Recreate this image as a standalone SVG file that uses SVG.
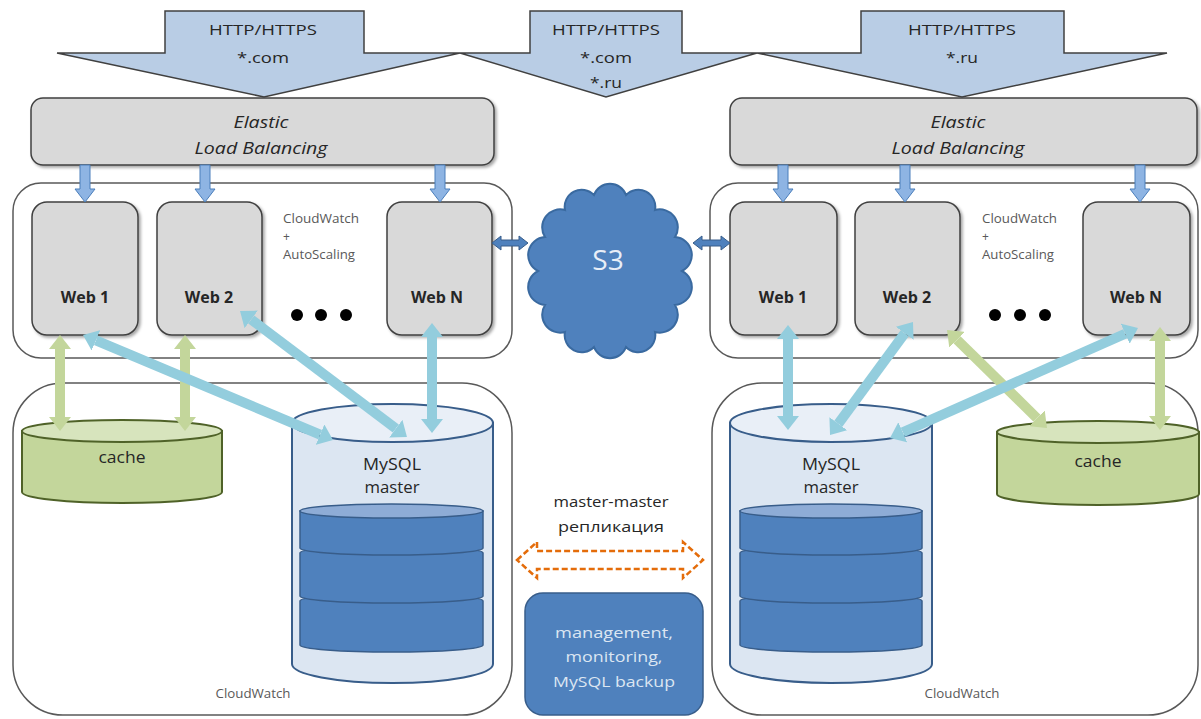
<svg xmlns="http://www.w3.org/2000/svg" xmlns:xlink="http://www.w3.org/1999/xlink" width="1201" height="719" viewBox="0 0 1201 719">
<style>
text{font-family:"Open Sans","Liberation Sans",sans-serif;fill:#262626}
.http{fill:#b9cde5;stroke:#404040;stroke-width:1.5;stroke-linejoin:miter}
.elb{fill:#d9d9d9;stroke:#404040;stroke-width:1.5;filter:url(#sh)}
.web{fill:#d9d9d9;stroke:#404040;stroke-width:1.5;filter:url(#sh)}
.grp{fill:#ffffff;stroke:#595959;stroke-width:1.5}
.dn{fill:#8eb4e3;stroke:#4a7ebb;stroke-width:1}
.s3a{fill:#4f81bd;stroke:#385d8a;stroke-width:1}
.small{font-size:12px;fill:#595959}
.lbl{font-size:16px;font-weight:bold;text-anchor:middle}
.c{text-anchor:middle}
.cyl{fill:#dce6f2;stroke:#385d8a;stroke-width:2}
.cyltop{fill:#e9eff7;stroke:#385d8a;stroke-width:2}
.disk{fill:#4f81bd;stroke:#385d8a;stroke-width:1.5}
.disktop{fill:#8eacd6;stroke:#385d8a;stroke-width:1.5}
.cache{fill:#c3d69b;stroke:#4f6228;stroke-width:2}
.cachetop{fill:#d7e4bd;stroke:#4f6228;stroke-width:2}
.blue{stroke:#93cddd;stroke-width:10;fill:none;marker-start:url(#mb);marker-end:url(#mb)}
.green{stroke:#c3d69b;stroke-width:10;fill:none;marker-start:url(#mg);marker-end:url(#mg)}
</style>
<defs>
<filter id="sh" x="-10%" y="-10%" width="130%" height="130%">
<feDropShadow dx="2" dy="2" stdDeviation="1.5" flood-color="#000" flood-opacity="0.35"/>
</filter>
<marker id="mb" markerUnits="userSpaceOnUse" markerWidth="14" markerHeight="22" viewBox="0 0 14 22" refX="0" refY="11" orient="auto-start-reverse">
<path d="M0,0 L14,11 L0,22 Z" fill="#93cddd"/>
</marker>
<marker id="mg" markerUnits="userSpaceOnUse" markerWidth="14" markerHeight="22" viewBox="0 0 14 22" refX="0" refY="11" orient="auto-start-reverse">
<path d="M0,0 L14,11 L0,22 Z" fill="#c3d69b"/>
</marker>
<path id="dn" class="dn" d="M-5,165 L5,165 L5,189 L10,189 L0,202 L-10,189 L-5,189 Z"/>
</defs>

<!-- top HTTP arrows -->
<g id="http1">
<path class="http" d="M165,11 L364,11 L364,53 L460,53 L264,97 L57,53 L165,53 Z"/>
<text class="c" x="263" y="35" font-size="15" textLength="108" lengthAdjust="spacingAndGlyphs">HTTP/HTTPS</text>
<text class="c" x="263" y="63" font-size="15" textLength="52" lengthAdjust="spacingAndGlyphs">*.com</text>
</g>
<g id="http3">
<path class="http" d="M861,11 L1064,11 L1064,53 L1167,53 L962,97 L757,53 L861,53 Z"/>
<text class="c" x="962" y="35" font-size="15" textLength="108" lengthAdjust="spacingAndGlyphs">HTTP/HTTPS</text>
<text class="c" x="962" y="63" font-size="15" textLength="32" lengthAdjust="spacingAndGlyphs">*.ru</text>
</g>
<g id="http2">
<path class="http" d="M530,11 L682,11 L682,53 L757,53 L606,97 L460,53 L530,53 Z"/>
<text class="c" x="606" y="35" font-size="15" textLength="108" lengthAdjust="spacingAndGlyphs">HTTP/HTTPS</text>
<text class="c" x="606" y="63" font-size="15" textLength="52" lengthAdjust="spacingAndGlyphs">*.com</text>
<text class="c" x="606" y="88" font-size="15" textLength="32" lengthAdjust="spacingAndGlyphs">*.ru</text>
</g>

<!-- ELB -->
<g id="elb-left">
<rect class="elb" x="31" y="98" width="463" height="67" rx="12"/>
<text class="c" x="261" y="128" font-size="16" font-style="italic" textLength="55" lengthAdjust="spacingAndGlyphs">Elastic</text>
<text class="c" x="261" y="154" font-size="16" font-style="italic" textLength="133" lengthAdjust="spacingAndGlyphs">Load Balancing</text>
</g>
<g id="elb-right">
<rect class="elb" x="730" y="98" width="467" height="67" rx="12"/>
<text class="c" x="958" y="128" font-size="16" font-style="italic" textLength="55" lengthAdjust="spacingAndGlyphs">Elastic</text>
<text class="c" x="958" y="154" font-size="16" font-style="italic" textLength="133" lengthAdjust="spacingAndGlyphs">Load Balancing</text>
</g>

<!-- web groups -->
<g id="webgroup-left">
<rect class="grp" x="13" y="183" width="499" height="175" rx="28"/>
<text class="small" x="283" y="223" textLength="76" lengthAdjust="spacingAndGlyphs">CloudWatch</text>
<text class="small" x="283" y="241">+</text>
<text class="small" x="283" y="259" textLength="72" lengthAdjust="spacingAndGlyphs">AutoScaling</text>
<circle cx="297" cy="315" r="6" fill="#000"/>
<circle cx="321" cy="315" r="6" fill="#000"/>
<circle cx="346" cy="315" r="6" fill="#000"/>
</g>
<g id="web1-left"><rect class="web" x="32" y="202" width="106" height="133" rx="15"/><text class="lbl" x="85" y="303">Web 1</text></g>
<g id="web2-left"><rect class="web" x="157" y="202" width="105" height="133" rx="15"/><text class="lbl" x="209" y="303">Web 2</text></g>
<g id="webN-left"><rect class="web" x="387" y="202" width="105" height="133" rx="15"/><text class="lbl" x="437" y="303">Web N</text></g>

<g id="webgroup-right">
<rect class="grp" x="710" y="183" width="488" height="175" rx="28"/>
<text class="small" x="982" y="223" textLength="75" lengthAdjust="spacingAndGlyphs">CloudWatch</text>
<text class="small" x="982" y="241">+</text>
<text class="small" x="982" y="259" textLength="72" lengthAdjust="spacingAndGlyphs">AutoScaling</text>
<circle cx="995" cy="315" r="6" fill="#000"/>
<circle cx="1020" cy="315" r="6" fill="#000"/>
<circle cx="1045" cy="315" r="6" fill="#000"/>
</g>
<g id="web1-right"><rect class="web" x="730" y="202" width="107" height="133" rx="15"/><text class="lbl" x="783" y="303">Web 1</text></g>
<g id="web2-right"><rect class="web" x="855" y="202" width="105" height="133" rx="15"/><text class="lbl" x="907" y="303">Web 2</text></g>
<g id="webN-right"><rect class="web" x="1083" y="202" width="107" height="133" rx="15"/><text class="lbl" x="1136" y="303">Web N</text></g>

<!-- S3 -->
<g id="s3">
<path d="M682,271 A18,18 0 0 1 675,305 A18,18 0 0 1 655,332 A17,17 0 0 1 626,347 A17,17 0 0 1 594,347 A17,17 0 0 1 565,332 A18,18 0 0 1 545,305 A18,18 0 0 1 538,271 A18,18 0 0 1 545,237 A18,18 0 0 1 565,210 A17,17 0 0 1 594,195 A17,17 0 0 1 626,195 A17,17 0 0 1 655,210 A18,18 0 0 1 675,237 A18,18 0 0 1 682,271 Z" fill="#4f81bd" stroke="#3a6aa0" stroke-width="2"/>
<text class="c" x="608" y="270" font-size="28" style="fill:#e8eef7">S3</text>
</g>

<!-- bottom containers -->
<g id="db-left">
<rect class="grp" x="13" y="383" width="499" height="332" rx="50"/>
<text class="small c" x="253" y="698" textLength="75" lengthAdjust="spacingAndGlyphs">CloudWatch</text>
</g>
<g id="db-right">
<rect class="grp" x="712" y="383" width="486" height="332" rx="50"/>
<text class="small c" x="962" y="698" textLength="75" lengthAdjust="spacingAndGlyphs">CloudWatch</text>
</g>

<!-- caches -->
<g id="cache-left">
<path class="cache" d="M22,431 L22,492 A100,11 0 0 0 222,492 L222,431 Z"/>
<ellipse class="cachetop" cx="122" cy="431" rx="100" ry="11"/>
<text class="c" x="122" y="463" font-size="16" textLength="47" lengthAdjust="spacingAndGlyphs">cache</text>
</g>
<g id="cache-right">
<path class="cache" d="M997,432 L997,494 A101,11 0 0 0 1199,494 L1199,432 Z"/>
<ellipse class="cachetop" cx="1098" cy="432" rx="101" ry="11"/>
<text class="c" x="1098" y="467" font-size="16" textLength="47" lengthAdjust="spacingAndGlyphs">cache</text>
</g>

<!-- MySQL left -->
<g id="mysql-left">
<path class="cyl" d="M292,423 L292,664 A100.5,19 0 0 0 493,664 L493,423 Z"/>
<ellipse class="cyltop" cx="392.5" cy="423" rx="100.5" ry="19"/>
<text class="c" x="392" y="470" font-size="16" textLength="58" lengthAdjust="spacingAndGlyphs">MySQL</text>
<text class="c" x="392" y="493" font-size="16" textLength="55" lengthAdjust="spacingAndGlyphs">master</text>
<path class="disk" d="M300,601 L300,645 A91.5,7 0 0 0 483,645 L483,601 A91.5,7 0 0 0 300,601 Z"/>
<path class="disk" d="M300,553 L300,596 A91.5,7 0 0 0 483,596 L483,553 A91.5,7 0 0 0 300,553 Z"/>
<path class="disk" d="M300,511 L300,548 A91.5,7 0 0 0 483,548 L483,511 Z"/>
<ellipse class="disktop" cx="391.5" cy="511" rx="91.5" ry="7"/>
</g>

<!-- MySQL right -->
<g id="mysql-right">
<path class="cyl" d="M730,423 L730,664 A101,19 0 0 0 932,664 L932,423 Z"/>
<ellipse class="cyltop" cx="831" cy="423" rx="101" ry="19"/>
<text class="c" x="831" y="470" font-size="16" textLength="58" lengthAdjust="spacingAndGlyphs">MySQL</text>
<text class="c" x="831" y="493" font-size="16" textLength="55" lengthAdjust="spacingAndGlyphs">master</text>
<path class="disk" d="M740,601 L740,645 A91,7 0 0 0 922,645 L922,601 A91,7 0 0 0 740,601 Z"/>
<path class="disk" d="M740,553 L740,596 A91,7 0 0 0 922,596 L922,553 A91,7 0 0 0 740,553 Z"/>
<path class="disk" d="M740,511 L740,548 A91,7 0 0 0 922,548 L922,511 Z"/>
<ellipse class="disktop" cx="831" cy="511" rx="91" ry="7"/>
</g>

<!-- replication + management -->
<g id="replication">
<text class="c" x="611" y="507" font-size="14" textLength="115" lengthAdjust="spacingAndGlyphs">master-master</text>
<text class="c" x="611" y="532" font-size="14" textLength="106" lengthAdjust="spacingAndGlyphs">репликация</text>
</g>
<g id="management">
<rect x="525" y="593" width="178" height="122" rx="18" fill="#4f81bd" stroke="#385d8a" stroke-width="1.5"/>
<text class="c" x="614" y="638" font-size="15" style="fill:#dce6f2" textLength="118" lengthAdjust="spacingAndGlyphs">management,</text>
<text class="c" x="614" y="662" font-size="15" style="fill:#dce6f2" textLength="97" lengthAdjust="spacingAndGlyphs">monitoring,</text>
<text class="c" x="614" y="687" font-size="15" style="fill:#dce6f2" textLength="122" lengthAdjust="spacingAndGlyphs">MySQL backup</text>
</g>

<!-- connectors -->
<g id="connectors">
<use href="#dn" x="85"/>
<use href="#dn" x="205"/>
<use href="#dn" x="440"/>
<use href="#dn" x="783"/>
<use href="#dn" x="905"/>
<use href="#dn" x="1140"/>
<path class="s3a" d="M492,243 L501,236 L501,240 L519,240 L519,236 L528,243 L519,250 L519,246 L501,246 L501,250 Z"/>
<path class="s3a" d="M693,243 L702,236 L702,240 L721,240 L721,236 L730,243 L721,250 L721,246 L702,246 L702,250 Z"/>
<path d="M517,560 L537,542 L537,551 L683,551 L683,542 L703,560 L683,578 L683,569 L537,569 L537,578 Z" fill="#ffffff" stroke="#e46c0a" stroke-width="2.5" stroke-dasharray="6 3"/>
<line class="green" x1="60" y1="349" x2="60" y2="417"/>
<line class="green" x1="185" y1="349" x2="185" y2="417"/>
<line class="green" x1="957" y1="339.8" x2="1037" y2="418.2"/>
<line class="green" x1="1160" y1="341" x2="1160" y2="416"/>
<line class="blue" x1="95.9" y1="340.4" x2="320.1" y2="434.6"/>
<line class="blue" x1="251.2" y1="319.4" x2="395.8" y2="428.6"/>
<line class="blue" x1="432" y1="337" x2="432" y2="419"/>
<line class="blue" x1="788" y1="339" x2="788" y2="416"/>
<line class="blue" x1="904.7" y1="333.3" x2="838.3" y2="423.7"/>
<line class="blue" x1="1125.2" y1="333.7" x2="902.8" y2="432.3"/>
</g>
</svg>
